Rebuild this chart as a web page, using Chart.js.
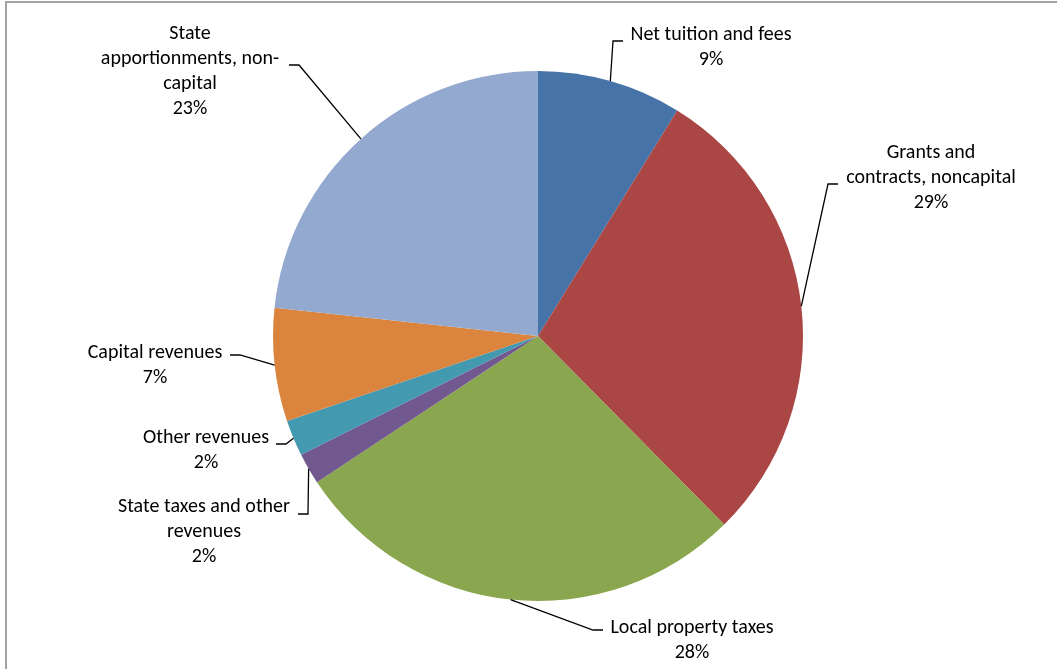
<!DOCTYPE html>
<html>
<head>
<meta charset="utf-8">
<script src="https://cdn.jsdelivr.net/npm/chart.js@4/dist/chart.umd.min.js"></script>
<style>
  html, body { margin: 0; padding: 0; background: #fff; overflow: hidden; }
  #frame { position: absolute; left: 5px; top: 1px; width: 1100px; height: 720px;
           border-left: 2px solid #a3a3a3; border-top: 2px solid #a3a3a3; }
  #wrap { position: absolute; left: 0; top: 0; width: 1057px; height: 669px; }
</style>
</head>
<body>
<div id="frame"></div>
<div id="wrap"><canvas id="pieChart"></canvas></div>
<script>
// Slice categories (clockwise from 12 o'clock)
const categories = [
    'Net tuition and fees',
    'Grants and contracts, noncapital',
    'Local property taxes',
    'State taxes and other revenues',
    'Other revenues',
    'Capital revenues',
    'State apportionments, non-capital'
];
// Share of revenue, percent
const shares = [8.8, 28.8, 28.1, 1.9, 2.2, 6.9, 23.3];
// Data label text, as printed on the chart
const labelLines = [
    ['Net tuition and fees', '9%'],
    ['Grants and', 'contracts, noncapital', '29%'],
    ['Local property taxes', '28%'],
    ['State taxes and other', 'revenues', '2%'],
    ['Other revenues', '2%'],
    ['Capital revenues', '7%'],
    ['State', 'apportionments, non-', 'capital', '23%']
];
const colors = ['#4673a8', '#aa4744', '#8aa64f', '#71588f', '#4299b0', '#db843d', '#93a9d0'];

// label placement: text center relative to pie center (px), elbow of leader line, side of text
const labelPlace = [
    { cx: 173, cy: -289, ex: 75, ey: -295, side: 'left' },
    { cx: 393, cy: -158, ex: 290, ey: -152, side: 'left' },
    { cx: 154, cy: 304, ex: 55, ey: 294, side: 'left' },
    { cx: -334, cy: 196, ex: -230, ey: 178, side: 'right' },
    { cx: -332, cy: 114, ex: -252, ey: 108, side: 'right' },
    { cx: -383, cy: 29, ex: -298, ey: 19, side: 'right' },
    { cx: -348, cy: -265, ex: -239, ey: -271, side: 'right' }
];

const FONT = '20px Carlito, Calibri, Lato, sans-serif';
const LINE_H = 25;

// draws Excel-like data labels with leader lines
const leaderLabels = {
    id: 'leaderLabels',
    afterDatasetsDraw(chart) {
        const ctx = chart.ctx;
        const meta = chart.getDatasetMeta(0);
        ctx.save();
        ctx.font = FONT;
        ctx.fillStyle = '#000';
        ctx.strokeStyle = '#000';
        ctx.lineWidth = 1.3;
        ctx.textAlign = 'center';
        ctx.textBaseline = 'middle';
        meta.data.forEach((arc, i) => {
            const p = arc.getProps(['x', 'y', 'startAngle', 'endAngle', 'outerRadius'], true);
            const mid = (p.startAngle + p.endAngle) / 2;
            const ax = p.x + Math.cos(mid) * p.outerRadius;
            const ay = p.y + Math.sin(mid) * p.outerRadius;
            const pl = labelPlace[i];
            const lines = labelLines[i];
            const tx = p.x + pl.cx;
            const ty = p.y + pl.cy;
            const ex = p.x + pl.ex;
            const ey = p.y + pl.ey;
            const stub = pl.side === 'left' ? ex + 10 : ex - 10;
            ctx.beginPath();
            ctx.moveTo(ax, ay);
            ctx.lineTo(ex, ey);
            ctx.lineTo(stub, ey);
            ctx.stroke();
            const top = ty - (lines.length - 1) * LINE_H / 2;
            lines.forEach((t, k) => ctx.fillText(t, tx, top + k * LINE_H));
        });
        ctx.restore();
    }
};

const ctx = document.getElementById('pieChart').getContext('2d');
const chart = new Chart(ctx, {
    type: 'pie',
    data: {
        labels: categories,
        datasets: [{
            data: shares,
            backgroundColor: colors,
            borderWidth: 0
        }]
    },
    options: {
        responsive: true,
        maintainAspectRatio: false,
        animation: false,
        layout: { padding: { top: 71, bottom: 68, left: 273, right: 254 } },
        plugins: {
            legend: { display: false },
            tooltip: { enabled: false }
        }
    },
    plugins: [leaderLabels]
});
</script>
</body>
</html>
